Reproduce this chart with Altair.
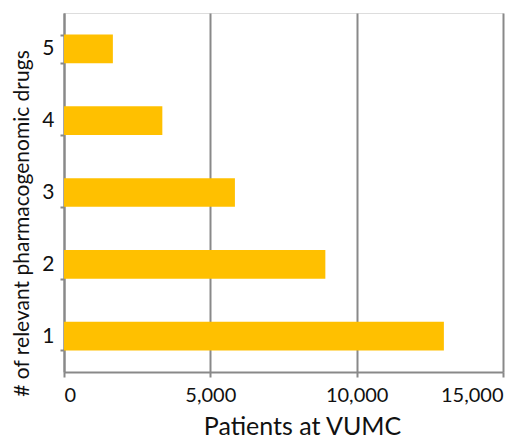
import altair as alt
import pandas as pd

drugs = ["1", "2", "3", "4", "5"]
patients = [12980, 8930, 5840, 3360, 1670]

df = pd.DataFrame({"drugs": drugs, "patients": patients})

GRAY = "#898989"
FONT = "Lato"

chart = alt.Chart(df).mark_bar(color="#FFC000").encode(
    x=alt.X(
        "patients:Q",
        scale=alt.Scale(domain=[0, 15000], nice=False),
        axis=alt.Axis(
            values=[0, 5000, 10000, 15000],
            format=",d",
            title="Patients at VUMC",
            titleFontSize=25,
            titleFontWeight="normal",
            titleFont=FONT,
            titleColor="#111",
            titleX=238,
            titleY=42,
            titleBaseline="top",
            labelFont=FONT,
            labelFontSize=20,
            labelColor="#111",
            labelPadding=8,
            grid=True,
            gridColor=GRAY,
            gridWidth=2,
            domainColor=GRAY,
            domainWidth=2,
            tickColor=GRAY,
            tickWidth=2,
            tickSize=5,
        ),
    ),
    y=alt.Y(
        "drugs:O",
        sort="descending",
        scale=alt.Scale(paddingInner=0.6, paddingOuter=0.3),
        axis=alt.Axis(
            title="# of relevant pharmacogenomic drugs",
            titleFontSize=21,
            titleFontWeight="normal",
            titleFont=FONT,
            titleColor="#111",
            titleX=-32,
            titleY=210,
            labelFont=FONT,
            labelFontSize=21,
            labelColor="#111",
            labelAngle=0,
            labelPadding=6,
            grid=False,
            tickBand="extent",
            domainColor=GRAY,
            domainWidth=2,
            tickColor=GRAY,
            tickWidth=2,
            tickSize=4,
        ),
    ),
).properties(
    width=439,
    height=359,
    autosize=alt.AutoSizeParams(type="none"),
    padding={"left": 64, "top": 13, "right": 18, "bottom": 73},
).configure_view(stroke=None).configure(background="white")

chart.save("out.html", embed_options={"renderer": "svg", "actions": False})
